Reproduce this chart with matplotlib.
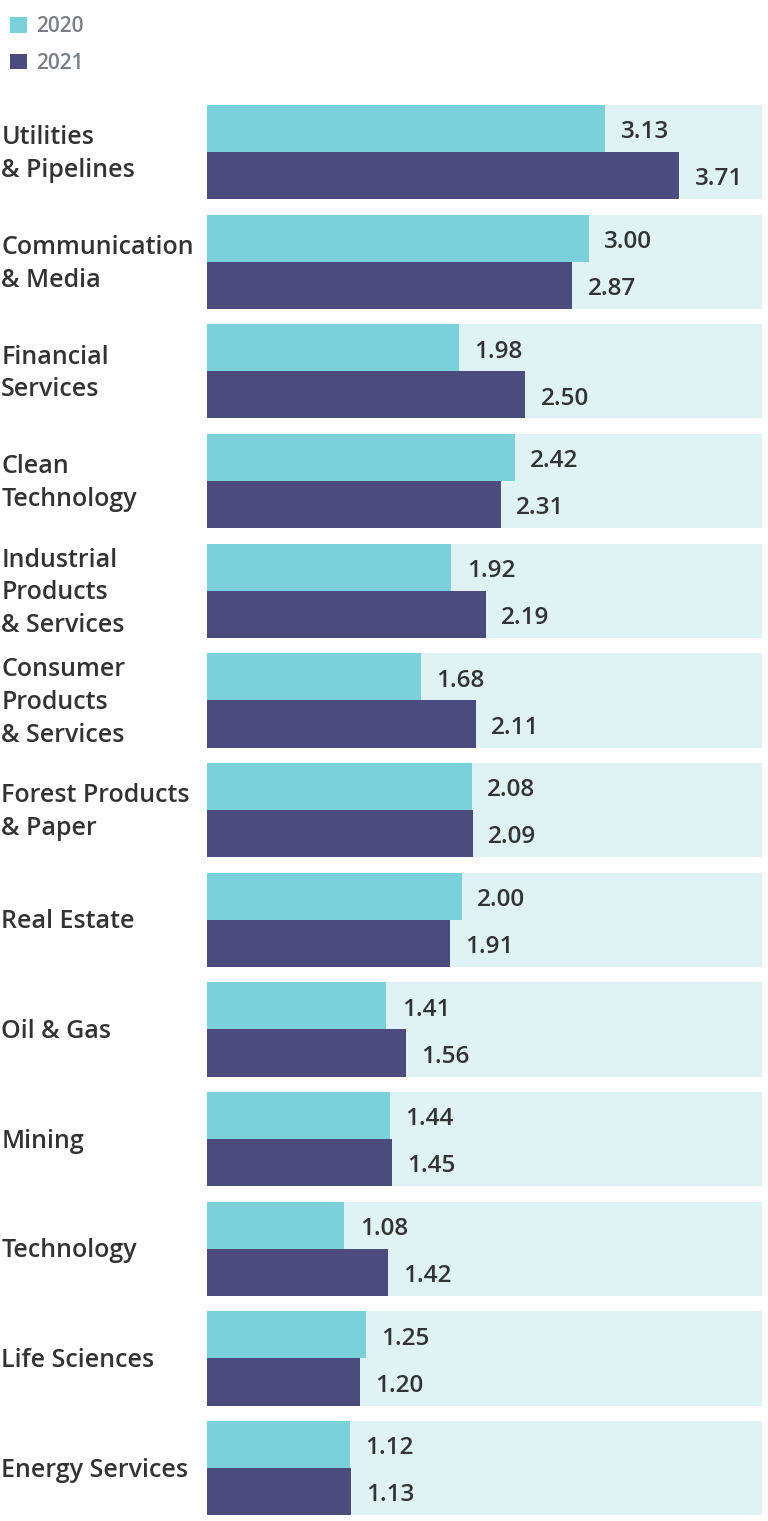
import numpy as np
import matplotlib.pyplot as plt
from matplotlib.patches import Patch

# Daten
kategorien = ["Utilities\n& Pipelines", "Communication\n& Media", "Financial\nServices",
              "Clean\nTechnology", "Industrial\nProducts\n& Services",
              "Consumer\nProducts\n& Services", "Forest Products\n& Paper", "Real Estate",
              "Oil & Gas", "Mining", "Technology", "Life Sciences", "Energy Services"]
werte_2020 = [3.13, 3.00, 1.98, 2.42, 1.92, 1.68, 2.08, 2.00, 1.41, 1.44, 1.08, 1.25, 1.12]
werte_2021 = [3.71, 2.87, 2.50, 2.31, 2.19, 2.11, 2.09, 1.91, 1.56, 1.45, 1.42, 1.20, 1.13]
jahre = ["2020", "2021"]

farbe_2020 = "#7AD1DB"
farbe_2021 = "#4B4C7D"
farbe_band = "#DFF3F5"
farbe_text = "#333333"

plt.rcParams['font.family'] = ['Open Sans', 'DejaVu Sans']

fig = plt.figure(figsize=(7.68, 15.21), dpi=100)
ax = fig.add_axes([0, 0, 1, 1])

px_pro_einheit = 127.3
x0_px = 207
ax.set_xlim(-x0_px / px_pro_einheit, (768 - x0_px) / px_pro_einheit)
# Gruppenabstand 109.67 px, Gruppe 0 Mitte bei 152 px
abstand = 109.67
ax.set_ylim((1521 - 152) / abstand, -152 / abstand)

n = len(kategorien)
y = np.arange(n)
band_max = (762 - x0_px) / px_pro_einheit
h = 0.43

ax.barh(y, band_max, height=2 * h, color=farbe_band, zorder=1)
ax.barh(y - h / 2, werte_2020, height=h, color=farbe_2020, zorder=2)
ax.barh(y + h / 2, werte_2021, height=h, color=farbe_2021, zorder=2)

for i in range(n):
    ax.text(werte_2020[i] + 0.12, y[i] - h / 2 + 0.035, "{:.2f}".format(werte_2020[i]),
            va='center', ha='left', fontsize=17.5, color=farbe_text, weight='semibold')
    ax.text(werte_2021[i] + 0.12, y[i] + h / 2 + 0.035, "{:.2f}".format(werte_2021[i]),
            va='center', ha='left', fontsize=17.5, color=farbe_text, weight='semibold')
    ax.text(-x0_px / px_pro_einheit + 0.01, y[i] + 0.02, kategorien[i], va='center',
            ha='left', fontsize=18, color=farbe_text, weight='semibold', linespacing=1.4)

ax.axis('off')

handles = [Patch(facecolor=farbe_2020), Patch(facecolor=farbe_2021)]
fig.legend(handles, jahre, loc='upper left', bbox_to_anchor=(-0.006, 0.999), frameon=False,
           labelcolor='#7A7F87', handlelength=0.8, handleheight=0.8,
           handletextpad=0.45, labelspacing=0.75, borderaxespad=0.3,
           prop={'weight': 'semibold', 'size': 15})

plt.savefig("out.png", dpi=100)
